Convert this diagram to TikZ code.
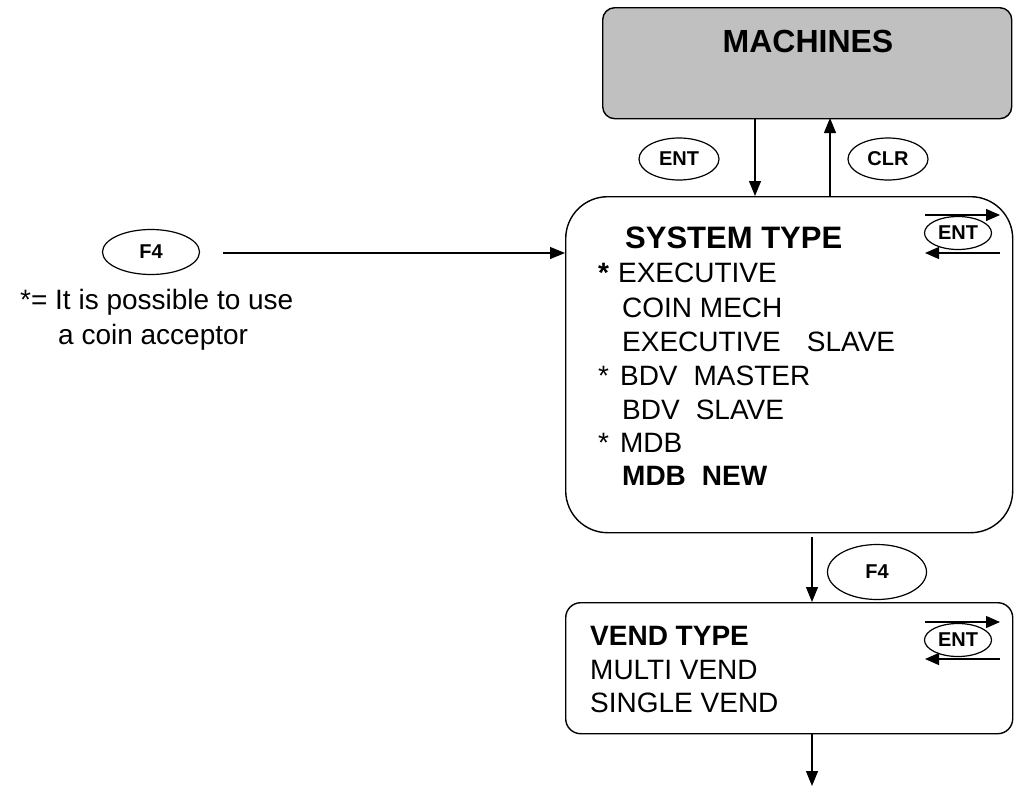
\documentclass[tikz,border=0pt]{standalone}
\usepackage{fontspec}
\setmainfont{Liberation Sans}
\usetikzlibrary{arrows.meta,shapes.geometric}
\definecolor{machgray}{RGB}{192,192,192}
\newcommand\myreg{\fontsize{28}{34}\selectfont}
\newcommand\myhead{\fontsize{31}{36}\selectfont\bfseries}
\newcommand\mymach{\fontsize{32}{38}\selectfont\bfseries}
\newcommand\mykey{\fontsize{20}{24}\selectfont\bfseries}
\begin{document}
\begin{tikzpicture}[x=1pt,y=-1pt,
  box/.style={draw,line width=1.4pt,anchor=north west,inner sep=0pt},
  keyell/.style={ellipse,draw,line width=1.2pt,inner sep=0pt,font=\mykey},
  txt/.style={anchor=base west,inner sep=0pt,font=\myreg},
  arr/.style={line width=1.2pt,-{Triangle[length=15pt,width=12pt]}},
  sarr/.style={line width=1.2pt,-{Triangle[length=14pt,width=12pt]}}]
\useasboundingbox (0,0) rectangle (1014,787);
% boxes
\node[box,rounded corners=12pt,fill=machgray,minimum width=409pt,minimum height=111pt] (mach) at (602,7) {};
\node[anchor=base,inner sep=0pt,font=\mymach] (machtxt) at (808,52) {MACHINES};
\node[box,rounded corners=42pt,minimum width=447pt,minimum height=336pt] (sys) at (565,196) {};
\node[box,rounded corners=15pt,minimum width=447pt,minimum height=131pt] (vend) at (565,602) {};
% system type texts
\node[anchor=base west,inner sep=0pt,font=\myhead] (systitle) at (625,248) {SYSTEM TYPE};
\node[txt] (s1) at (598,282) {\textbf{*}\hspace{9pt}EXECUTIVE};
\node[txt] (s2) at (622,317) {COIN MECH};
\node[txt] (s3) at (622,351) {EXECUTIVE\hspace{26pt}SLAVE};
\node[txt] (s4) at (598,385) {*\hspace{11pt}BDV\hspace{16pt}MASTER};
\node[txt] (s5) at (622,419) {BDV\hspace{16pt}SLAVE};
\node[txt] (s6) at (598,452) {*\hspace{11pt}MDB};
\node[txt,font=\myreg\bfseries] (s7) at (622,485) {MDB\hspace{16pt}NEW};
% vend type texts
\node[txt,font=\myreg\bfseries] (v1) at (590,645) {VEND TYPE};
\node[txt] (v2) at (590,679) {MULTI VEND};
\node[txt] (v3) at (590,712) {SINGLE VEND};
% note
\node[txt] (n1) at (20,309) {*= It is possible to use};
\node[txt] (n2) at (58,344) {a coin acceptor};
% key ellipses
\node[keyell,minimum width=80pt,minimum height=42pt] (ent1) at (679,159) {ENT};
\node[keyell,minimum width=80pt,minimum height=42pt] (clr) at (888,159) {CLR};
\node[keyell,minimum width=97pt,minimum height=45pt] (f4a) at (151,252) {F4};
\node[keyell,minimum width=99pt,minimum height=55pt] (f4b) at (877,572) {F4};
\node[keyell,minimum width=67pt,minimum height=33pt] (ent2) at (958,233) {ENT};
\node[keyell,minimum width=67pt,minimum height=33pt] (ent3) at (958,640) {ENT};
% connector coordinates
\coordinate (a1s) at (755,118); \coordinate (a1e) at (755,196);
\coordinate (a2s) at (830,196); \coordinate (a2e) at (830,118);
\coordinate (a3s) at (223,253); \coordinate (a3e) at (565,253);
\coordinate (a4s) at (812,537); \coordinate (a4e) at (812,602);
\coordinate (a5s) at (812,733); \coordinate (a5e) at (812,786);
\coordinate (e2a) at (925,215); \coordinate (e2b) at (1000,215);
\coordinate (e2c) at (1000,253); \coordinate (e2d) at (925,253);
\coordinate (e3a) at (925,622); \coordinate (e3b) at (1000,622);
\coordinate (e3c) at (1000,659); \coordinate (e3d) at (925,659);
\draw[arr] (a1s) -- (a1e);
\draw[arr] (a2s) -- (a2e);
\draw[arr] (a3s) -- (a3e);
\draw[arr] (a4s) -- (a4e);
\draw[arr] (a5s) -- (a5e);
\draw[sarr] (e2a) -- (e2b);
\draw[sarr] (e2c) -- (e2d);
\draw[sarr] (e3a) -- (e3b);
\draw[sarr] (e3c) -- (e3d);
\end{tikzpicture}
\end{document}
